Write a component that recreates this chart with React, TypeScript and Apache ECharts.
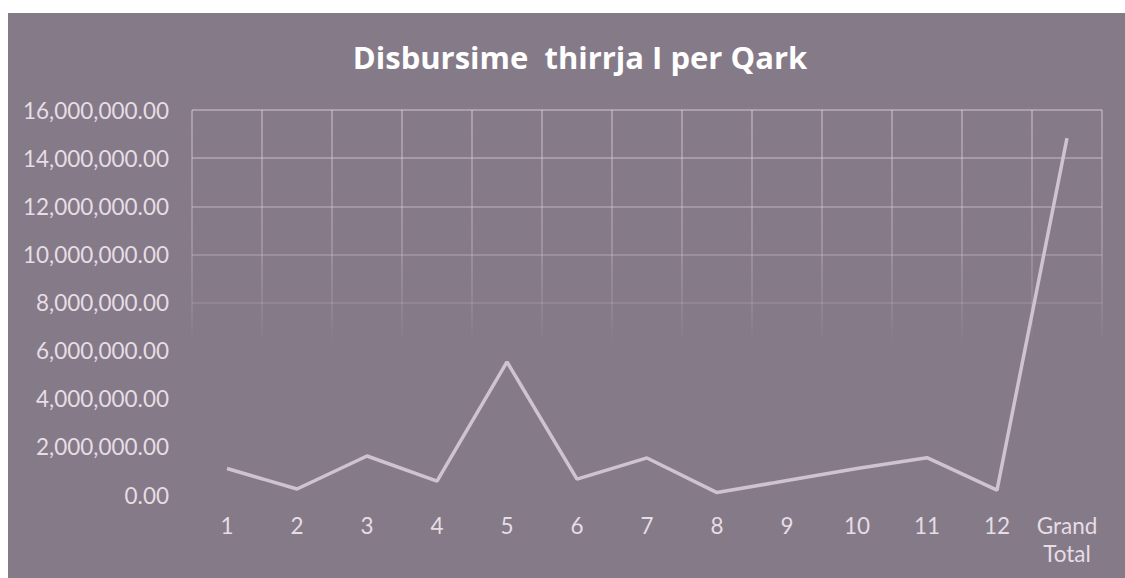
import React, { useEffect, useRef } from "react";
import * as echarts from "echarts";

const categories = ["1", "2", "3", "4", "5", "6", "7", "8", "9", "10", "11", "12", "Grand\nTotal"];
const disbursements = [1100000, 250000, 1620000, 580000, 5530000, 660000, 1540000, 100000, 600000, 1100000, 1550000, 200000, 14830000];
const yTicks = [0, 2000000, 4000000, 6000000, 8000000, 10000000, 12000000, 14000000, 16000000];
const titleText = "Disbursime  thirrja I per Qark";

const fmt = (v: number) =>
  v.toLocaleString("en-US", { minimumFractionDigits: 2, maximumFractionDigits: 2 });

export default function App() {
  const ref = useRef<HTMLDivElement>(null);
  useEffect(() => {
    if (!ref.current) return;
    const chart = echarts.init(ref.current, null, { renderer: "svg" });
    const gridColor = new echarts.graphic.LinearGradient(
      0, 97, 0, 330,
      [
        { offset: 0, color: "rgba(220,205,220,0.6)" },
        { offset: 0.55, color: "rgba(220,205,220,0.4)" },
        { offset: 0.85, color: "rgba(220,205,220,0.18)" },
        { offset: 1, color: "rgba(220,205,220,0)" },
      ],
      true
    );
    chart.setOption({
      animation: false,
      backgroundColor: "#857a87",
      title: {
        text: titleText,
        left: 567,
        textAlign: "center",
        top: 23,
        textStyle: {
          color: "#ffffff",
          fontSize: 31,
          fontWeight: "bold",
          fontFamily: "Open Sans",
        },
      },
      grid: { left: 184, right: 23, top: 97, bottom: 83, containLabel: false },
      xAxis: {
        type: "category",
        data: categories,
        boundaryGap: true,
        axisLine: { show: false },
        axisTick: { show: false },
        splitLine: { show: true, interval: 0, lineStyle: { color: gridColor, width: 1.5 } },
        axisLabel: {
          color: "#e6dde6",
          fontSize: 22.5,
          fontFamily: "Lato",
          margin: 16,
          lineHeight: 28,
          interval: 0,
        },
      },
      yAxis: {
        type: "value",
        min: 0,
        max: yTicks[yTicks.length - 1],
        interval: yTicks[1] - yTicks[0],
        axisLine: { show: false },
        axisTick: { show: false },
        splitLine: { show: true, lineStyle: { color: gridColor, width: 1.5 } },
        axisLabel: {
          color: "#e6dde6",
          fontSize: 22.5,
          fontFamily: "Lato",
          margin: 23,
          formatter: (v: number) => fmt(v),
        },
      },
      series: [
        {
          type: "line",
          data: disbursements,
          symbol: "none",
          lineStyle: { color: "#d0c3d0", width: 3.5 },
        },
      ],
    });
    return () => chart.dispose();
  }, []);
  return (
    <div
      ref={ref}
      style={{ position: "fixed", left: 8, top: 13, width: 1117, height: 565 }}
    />
  );
}
